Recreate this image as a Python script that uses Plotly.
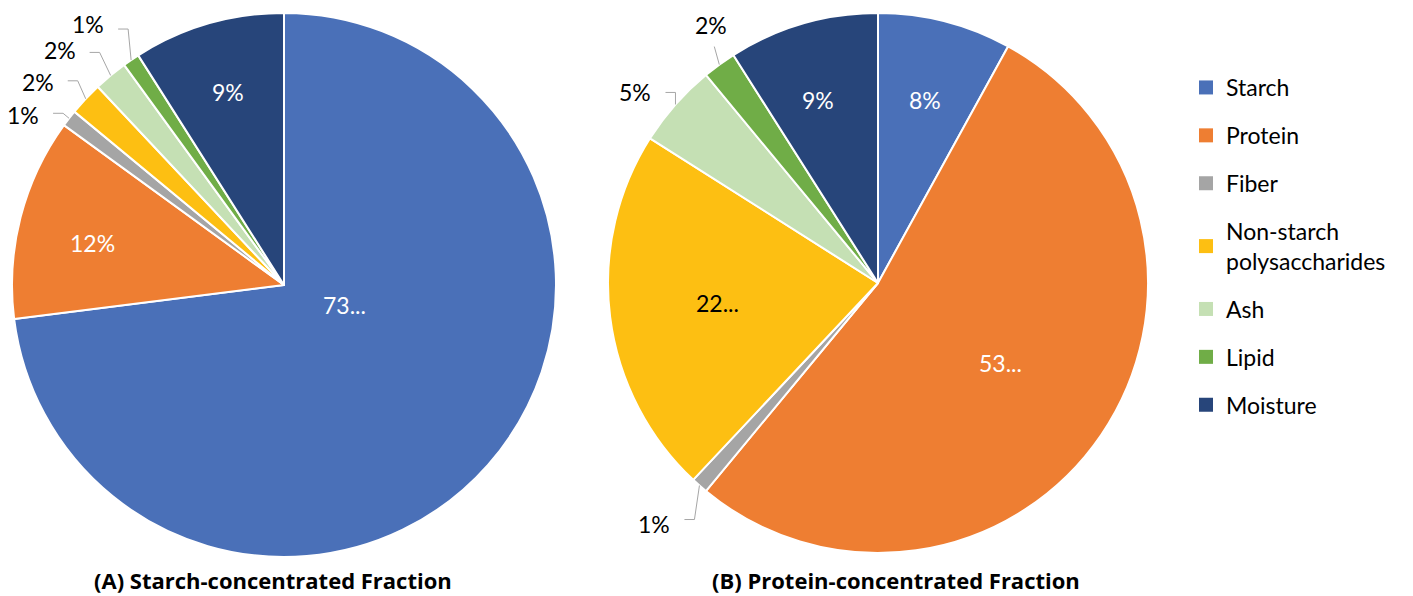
import math
import plotly.graph_objects as go

# Composition of the two air-classified fractions (%)
components = ["Starch", "Protein", "Fiber", "Non-starch polysaccharides",
              "Ash", "Lipid", "Moisture"]
legend_names = ["Starch", "Protein", "Fiber", "Non-starch<br>polysaccharides",
                "Ash", "Lipid", "Moisture"]
starch_fraction = [73, 12, 1, 2, 2, 1, 9]
protein_fraction = [8, 53, 1, 22, 5, 2, 9]
starch_labels = ["73...", "12%", "1%", "2%", "2%", "1%", "9%"]
protein_labels = ["8%", "53...", "1%", "22...", "5%", "2%", "9%"]

colors = ["#4A70B8", "#EE7E32", "#A5A5A5", "#FDBF12", "#C5E0B4", "#70AD47", "#27457A"]
label_colors = ["#FFFFFF", "#FFFFFF", "#000000", "#000000", "#000000", "#FFFFFF", "#FFFFFF"]

W, H = 1413, 596
FONT = "Lato"
LABEL_SIZE = 23
LEADER = "#A6A6A6"

# Pie placement (pixels) and label styling per slice.
# inside labels: ("in", radius fraction, angular shift in degrees)
# outside labels: ("out", elbow dx, elbow dy, horizontal run, placement, text dy)
pie_a = dict(cx=284, cy=285, r=272, caption="(A) Starch-concentrated Fraction", cap_x=273,
             styles=[("in", 0.235, -23), ("in", 0.72, -2),
                     ("out", -6, -5, -10, "left", 2), ("out", -8, -18, -10, "left", 1),
                     ("out", -11, -23, -10, "left", -2), ("out", -3, -31, -10, "left", -5),
                     ("in", 0.74, 0)])
pie_b = dict(cx=878, cy=283, r=270, caption="(B) Protein-concentrated Fraction", cap_x=896,
             styles=[("in", 0.70, 0), ("in", 0.54, -1),
                     ("out", -5, 34, -10, "left", 4), ("in", 0.60, 0),
                     ("out", 0, -12, -10, "left", 0), ("out", -5, -18, 0, "above", -6),
                     ("in", 0.715, -2)])


def px(x):
    return x / W


def py(y):
    return 1 - y / H


fig = go.Figure()

for vals, labels, geo in [(starch_fraction, starch_labels, pie_a),
                          (protein_fraction, protein_labels, pie_b)]:
    cx, cy, r = geo["cx"], geo["cy"], geo["r"]
    fig.add_trace(go.Pie(
        labels=components,
        values=vals,
        textinfo="none",
        marker=dict(colors=colors, line=dict(color="#FFFFFF", width=2)),
        sort=False,
        direction="clockwise",
        rotation=0,
        showlegend=False,
        domain=dict(x=[px(cx - r), px(cx + r)], y=[py(cy + r), py(cy - r)]),
        hoverinfo="label+percent",
    ))

    # Data labels placed from each slice's mid-angle (clockwise from 12 o'clock)
    total = float(sum(vals))
    cum = 0.0
    for v, lab, style, tcol in zip(vals, labels, geo["styles"], label_colors):
        mid = (cum + v / 2) / total * 360.0
        cum += v
        if style[0] == "in":
            ang = math.radians(mid + style[2])
            d = style[1] * r
            x, y = cx + d * math.sin(ang), cy - d * math.cos(ang)
            fig.add_annotation(
                text=lab, x=px(x), y=py(y), xref="paper", yref="paper",
                xanchor="center", yanchor="middle", showarrow=False,
                font=dict(family=FONT, size=LABEL_SIZE, color=tcol),
            )
        else:
            _, dx, dy, run, place, tdy = style
            ang = math.radians(mid)
            ex, ey = cx + r * math.sin(ang), cy - r * math.cos(ang)
            bx, by = ex + dx, ey + dy
            tx = bx + run
            path = f"M {px(ex)} {py(ey)} L {px(bx)} {py(by)}"
            if run:
                path += f" L {px(tx)} {py(by)}"
            fig.add_shape(type="path", path=path, xref="paper", yref="paper",
                          line=dict(color=LEADER, width=1))
            if place == "left":
                fig.add_annotation(
                    text=lab, x=px(tx - 12), y=py(by + tdy), xref="paper", yref="paper",
                    xanchor="right", yanchor="middle", showarrow=False,
                    font=dict(family=FONT, size=LABEL_SIZE, color="#000000"),
                )
            else:
                fig.add_annotation(
                    text=lab, x=px(bx - 3), y=py(by + tdy), xref="paper", yref="paper",
                    xanchor="center", yanchor="bottom", showarrow=False,
                    font=dict(family=FONT, size=LABEL_SIZE, color="#000000"),
                )

    fig.add_annotation(
        text=f"<b>{geo['caption']}</b>", x=px(geo["cap_x"]), y=py(580),
        xref="paper", yref="paper", xanchor="center", yanchor="middle",
        showarrow=False, borderpad=0,
        font=dict(family="Open Sans", size=22, color="#000000"),
    )

# Legend entries, one group each so the row spacing can be set
for name, col in zip(legend_names, colors):
    fig.add_trace(go.Scatter(
        x=[None], y=[None], mode="markers", name=name, legendgroup=name,
        marker=dict(symbol="square", size=14, color=col),
    ))

fig.update_xaxes(visible=False)
fig.update_yaxes(visible=False)

fig.update_layout(
    width=W, height=H,
    margin=dict(l=0, r=0, t=0, b=0),
    paper_bgcolor="#FFFFFF", plot_bgcolor="#FFFFFF",
    font=dict(family=FONT, color="#000000"),
    legend=dict(
        x=px(1186), xanchor="left", y=py(66), yanchor="top",
        traceorder="grouped", tracegroupgap=15,
        font=dict(family=FONT, size=23, color="#000000"),
        itemsizing="trace", bgcolor="rgba(0,0,0,0)",
    ),
)

fig.write_html("out.html")
